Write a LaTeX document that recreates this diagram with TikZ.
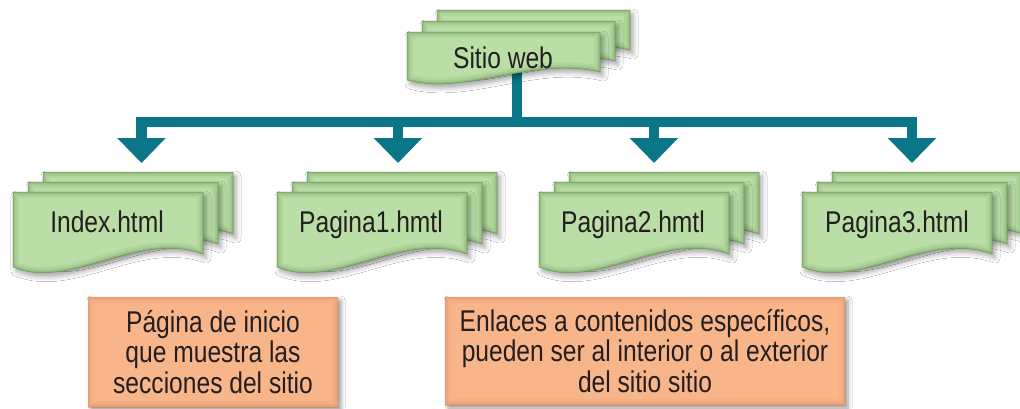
\documentclass[tikz,border=0pt]{standalone}
\usepackage{fontspec}
\setmainfont{Liberation Sans}[FakeStretch=0.82]
\usetikzlibrary{arrows.meta,shadows.blur}
\definecolor{busc}{RGB}{10,118,135}
\definecolor{docfill}{RGB}{186,222,166}
\definecolor{docedge}{RGB}{104,150,84}
\definecolor{boxfill}{RGB}{248,181,138}
\definecolor{boxedge}{RGB}{214,128,80}
\definecolor{txt}{RGB}{35,31,32}
\newcommand\docp[6]{(#1,#2) -- ({#1+#3},#2) -- ({#1+#3},{#2+#5}) .. controls ({#1+0.65*#3},{#2+#5-#6}) and ({#1+0.3*#3},{#2+#4+#6}) .. (#1,{#2+#4}) -- cycle}
\newcommand\drawdoc[6]{%
  \fill[docfill, blur shadow={shadow xshift=3pt,shadow yshift=-4pt,shadow blur radius=5pt,shadow opacity=35}] \docp{#1}{#2}{#3}{#4}{#5}{#6};
  \begin{scope}
    \clip \docp{#1}{#2}{#3}{#4}{#5}{#6};
    \draw[docedge, line width=12pt, opacity=.10] \docp{#1}{#2}{#3}{#4}{#5}{#6};
    \draw[docedge, line width=7pt, opacity=.16] \docp{#1}{#2}{#3}{#4}{#5}{#6};
    \draw[docedge, line width=3pt, opacity=.30] \docp{#1}{#2}{#3}{#4}{#5}{#6};
  \end{scope}
  \draw[docedge, line width=.5pt] \docp{#1}{#2}{#3}{#4}{#5}{#6};
}
% x y W Hl Hr a dy
\newcommand\docstack[7]{%
  \drawdoc{#1+30}{#2+2*#7}{#3}{#4}{#5}{#6}
  \drawdoc{#1+15}{#2+#7}{#3}{#4}{#5}{#6}
  \drawdoc{#1}{#2}{#3}{#4}{#5}{#6}
}
\tikzset{
  bus/.style={draw=busc, line width=10.5pt, line join=miter},
  busarrow/.style={bus, -{Triangle[width=47pt,length=25pt]}},
  doctext/.style={font=\fontsize{30}{30.5}\selectfont, text=txt, inner sep=0pt, anchor=base},
  obox/.style={fill=boxfill, text=txt, align=center, inner sep=0pt,
    font=\fontsize{30}{30.5}\selectfont,
    blur shadow={shadow xshift=3pt,shadow yshift=-3pt,shadow blur radius=4pt,shadow opacity=40},
    path picture={
      \draw[boxedge, line width=12pt, opacity=.10] (path picture bounding box.south west) rectangle (path picture bounding box.north east);
      \draw[boxedge, line width=6pt, opacity=.18] (path picture bounding box.south west) rectangle (path picture bounding box.north east);
      \draw[boxedge, line width=2.5pt, opacity=.30] (path picture bounding box.south west) rectangle (path picture bounding box.north east);
    }}
}
\begin{document}
\begin{tikzpicture}[x=1pt,y=-1pt]
\useasboundingbox (0,0) rectangle (1020,408);
\fill[white] (0,0) rectangle (1020,408);
% connectors
\coordinate (st) at (517,60);
\coordinate (j) at (517,122);
\coordinate (t1) at (141.5,163);
\coordinate (t2) at (398,163);
\coordinate (t3) at (654,163);
\coordinate (t4) at (912,163);
\draw[bus] (st) -- (j);
\draw[busarrow] (j) -| (t1);
\draw[busarrow] (j) -| (t2);
\draw[busarrow] (j) -| (t3);
\draw[busarrow] (j) -| (t4);
% documents
\docstack{407}{32}{193}{48}{40}{16}{-11}
\docstack{13}{192}{190}{75}{62}{24}{-10}
\docstack{277}{192}{190}{75}{62}{24}{-10}
\docstack{539}{192}{190}{75}{62}{24}{-10}
\docstack{802}{192}{190}{75}{62}{24}{-10}
\node[doctext] (sitio) at (503,68) {Sitio web};
\node[doctext] (index) at (107,232) {Index.html};
\node[doctext] (p1) at (371,232) {Pagina1.hmtl};
\node[doctext] (p2) at (633,232) {Pagina2.hmtl};
\node[doctext] (p3) at (897,232) {Pagina3.html};
% notes
\node[obox, minimum width=250pt, minimum height=110pt] (n1) at (213,352)
  {Página de inicio\\que muestra las\\secciones del sitio};
\node[obox, minimum width=400pt, minimum height=108pt] (n2) at (645,351)
  {Enlaces a contenidos específicos,\\pueden ser al interior o al exterior\\del sitio sitio};
\end{tikzpicture}
\end{document}
